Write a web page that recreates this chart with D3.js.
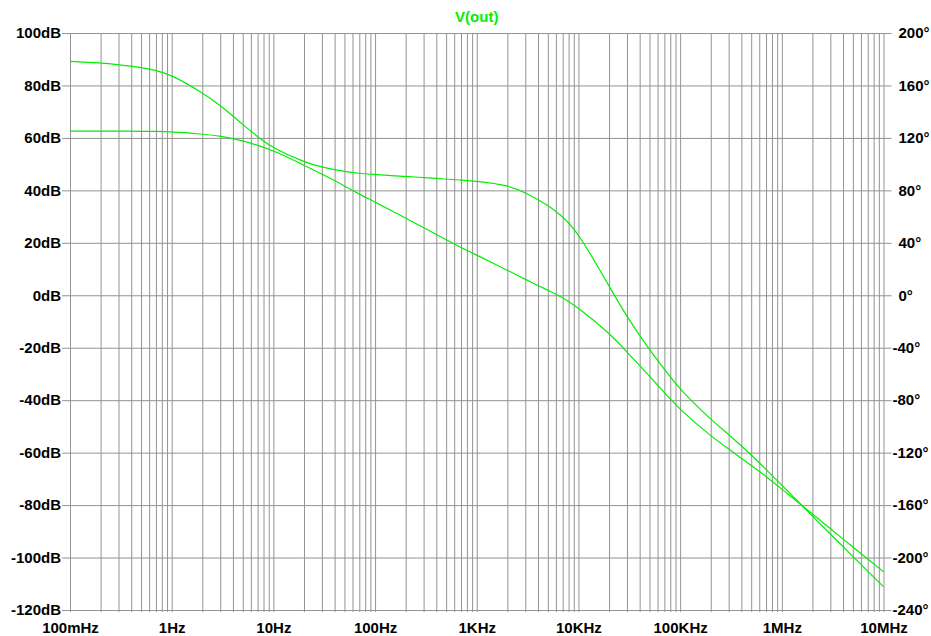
<!DOCTYPE html>
<html>
<head>
<meta charset="utf-8">
<script src="https://cdn.jsdelivr.net/npm/d3@7"></script>
<style>
  body { margin: 0; background: #fff; }
  text { font-family: "Liberation Sans", Arial, sans-serif; font-weight: bold; font-size: 15px; }
</style>
</head>
<body>
<script>
// frequency points (Hz)
const freqs = [
  0.1, 0.2, 0.3, 0.5, 0.7,
  1, 2, 3, 5, 7,
  10, 20, 30, 50, 70,
  100, 200, 300, 500, 700,
  1e3, 2e3, 3e3, 5e3, 7e3,
  1e4, 2e4, 3e4, 5e4, 7e4,
  1e5, 2e5, 3e5, 5e5, 7e5,
  1e6, 2e6, 3e6, 5e6, 7e6,
  1e7];

// trace starting near 89 dB
const traceA = [
  89.2, 88.6, 87.9, 86.9, 85.8,
  84.0, 77.3, 72.5, 65.1, 60.4,
  56.0, 50.8, 48.8, 47.2, 46.5,
  46.0, 45.3, 44.9, 44.3, 43.9,
  43.5, 42.0, 39.2, 34.4, 30.1,
  23.8, 3.5, -8.3, -20.8, -28.2,
  -36.1, -47.4, -53.0, -60.8, -66.4,
  -72.4, -84.2, -91.0, -99.6, -105.2,
  -111.1];

// trace starting near 63 dB
const traceB = [
  62.6, 62.6, 62.6, 62.5, 62.5,
  62.3, 61.5, 60.7, 59.0, 57.2,
  55.2, 49.6, 46.2, 41.8, 38.5,
  35.6, 29.4, 25.8, 21.2, 18.2,
  15.3, 9.5, 6.1, 1.9, -0.8,
  -4.8, -14.3, -21.6, -30.9, -37.1,
  -43.7, -53.7, -58.6, -64.9, -69.1,
  -73.9, -83.4, -89.0, -96.0, -100.6,
  -105.4];

const dbTicks = [-120, -100, -80, -60, -40, -20, 0, 20, 40, 60, 80, 100];
const degTicks = [-240, -200, -160, -120, -80, -40, 0, 40, 80, 120, 160, 200];
const decades = [0.1, 1, 10, 100, 1e3, 1e4, 1e5, 1e6, 1e7];
const decadeLabels = ['100mHz', '1Hz', '10Hz', '100Hz', '1KHz', '10KHz', '100KHz', '1MHz', '10MHz'];

const W = 931, H = 636;
const pL = 70, pR = 883.5, pT = 33, pB = 610;
const gridCol = '#939393';
const traceCol = '#00ee00';
const labelFont = '"Liberation Sans", Arial, sans-serif';

const svg = d3.select('body').append('svg').attr('width', W).attr('height', H);

const x = d3.scaleLog().domain([0.1, 1e7]).range([pL, pR]);
const y = d3.scaleLinear().domain([-120, 100]).range([pB, pT]);
const yDeg = d3.scaleLinear().domain([-240, 200]).range([pB, pT]);

// minor + major vertical grid (1..9 per decade)
const gridFreqs = [];
decades.slice(0, -1).forEach(d => {
  for (let k = 1; k < 10; k++) gridFreqs.push(d * k);
});
gridFreqs.push(1e7);

svg.append('g')
  .attr('transform', `translate(0,${pB + 2})`)
  .call(d3.axisBottom(x).tickValues(gridFreqs).tickSizeInner(-(pB + 2 - pT)).tickSizeOuter(0).tickFormat(''))
  .call(g => g.select('.domain').remove())
  .call(g => g.selectAll('line').attr('stroke', gridCol));

// horizontal grid + dB labels
svg.append('g')
  .attr('transform', `translate(${pL - 8},0)`)
  .call(d3.axisLeft(y).tickValues(dbTicks).tickSizeInner(-(pR - pL + 16)).tickSizeOuter(0)
    .tickPadding(1).tickFormat(d => d + 'dB'))
  .call(g => g.select('.domain').remove())
  .call(g => g.selectAll('line').attr('stroke', gridCol))
  .call(g => g.selectAll('text').attr('fill', '#000').style('font-size', '15px').style('font-family', labelFont));

// degree labels on the right (minus sign hangs left)
svg.append('g')
  .attr('transform', `translate(${pR + 8},0)`)
  .call(d3.axisRight(yDeg).tickValues(degTicks).tickSize(0).tickPadding(7).tickFormat(d => d + '°'))
  .call(g => g.select('.domain').remove())
  .call(g => g.selectAll('text')
    .attr('fill', '#000')
    .attr('dx', d => (d < 0 ? -6 : 0))
    .style('font-size', '15px').style('font-family', labelFont));

// frequency labels
svg.append('g')
  .attr('transform', `translate(0,${pB + 2})`)
  .call(d3.axisBottom(x).tickValues(decades).tickSize(0).tickPadding(10)
    .tickFormat((d, i) => decadeLabels[i]))
  .call(g => g.select('.domain').remove())
  .call(g => g.selectAll('text').attr('fill', '#000').style('font-size', '15px').style('font-family', labelFont));

// traces
const line = vals => d3.line()
  .x((d, i) => x(freqs[i]))
  .y(d => y(d))
  .curve(d3.curveBasis)(vals);

[traceA, traceB].forEach(t => {
  svg.append('path')
    .attr('d', line(t))
    .attr('fill', 'none')
    .attr('stroke', traceCol)
    .attr('stroke-width', 1.2);
});

// title
svg.append('text')
  .attr('x', (pL + pR) / 2)
  .attr('y', 22)
  .attr('text-anchor', 'middle')
  .attr('fill', traceCol)
  .text('V(out)');
</script>
</body>
</html>
